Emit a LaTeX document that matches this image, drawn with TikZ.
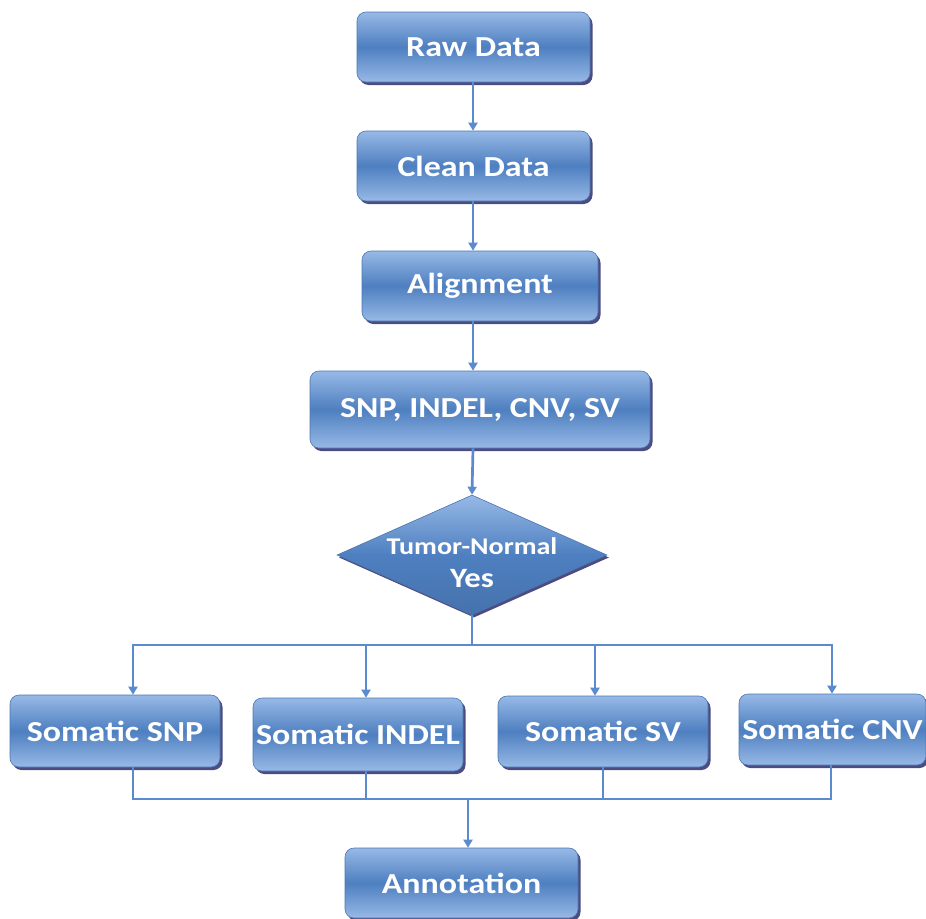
\documentclass[tikz,border=0pt]{standalone}
\usepackage{fontspec}
\setmainfont{Carlito}
\newfontfamily\boxfont{Carlito}[FakeStretch=1.17]
\usetikzlibrary{shapes.geometric,arrows.meta,shadows}
\definecolor{boxtop}{HTML}{97B9E6}
\definecolor{boxmid}{HTML}{4E7FC0}
\definecolor{boxedge}{HTML}{4A76B2}
\definecolor{linec}{HTML}{5A8BD0}
\tikzset{
  procbox/.style={rectangle, rounded corners=9pt, draw=boxedge, line width=0.6pt,
    top color=boxtop, bottom color=boxtop, middle color=boxmid,
    drop shadow={shadow xshift=2.5pt, shadow yshift=-3pt, fill=black!70!blue, opacity=0.7},
    text=white, font=\boxfont\bfseries\fontsize{29}{32}\selectfont, inner sep=0pt, align=center},
  decbox/.style={diamond, draw=boxedge, line width=0.6pt,
    top color=boxtop, bottom color=boxmid!90!black, middle color=boxmid,
    drop shadow={shadow xshift=2pt, shadow yshift=-2.5pt, fill=black!70!blue, opacity=0.7},
    inner sep=0pt},
  dectext/.style={text=white, inner sep=0pt, align=center,
    font=\boxfont\bfseries\fontsize{24}{28}\selectfont},
  conn/.style={draw=linec, line width=2.7pt},
  arr/.style={conn, -{Triangle[width=9pt,length=8pt]}}
}
\begin{document}
\begin{tikzpicture}[x=1pt,y=-1pt]
\useasboundingbox (0,0) rectangle (926,918);
\node[procbox, minimum width=233pt, minimum height=70pt] (raw) at (473.5,47) {Raw Data};
\node[procbox, minimum width=233pt, minimum height=70pt] (clean) at (473.5,166) {Clean Data};
\node[procbox, minimum width=236pt, minimum height=70pt] (align) at (480,286) {Alignment};
\node[procbox, minimum width=340pt, minimum height=77pt] (var) at (480,409.5) {SNP, INDEL, CNV, SV};
\node[decbox, minimum width=270pt, minimum height=120pt] (tn) at (472,555) {};
\node[dectext] (tnlabel) at (472,563) {Tumor-Normal\\[5pt]{\fontsize{28}{30}\selectfont Yes}};
\node[procbox, minimum width=210pt, minimum height=72pt] (ssnp) at (115,731) {Somatic SNP};
\node[procbox, minimum width=210pt, minimum height=73pt] (sindel) at (358,734.5) {Somatic INDEL};
\node[procbox, minimum width=210pt, minimum height=71pt] (ssv) at (603,731.5) {Somatic SV};
\node[procbox, minimum width=187pt, minimum height=71pt] (scnv) at (832.5,729.5) {Somatic CNV};
\node[procbox, minimum width=233pt, minimum height=70pt] (annot) at (461.5,883) {Annotation};

% vertical chain
\draw[arr] (raw.south -| 473,0) -- (clean.north -| 473,0);
\draw[arr] (clean.south -| 473,0) -- (align.north -| 473,0);
\draw[arr] (align.south -| 473,0) -- (var.north -| 473,0);
\draw[arr] (var.south -| 473,0) -- (tn.north);

% split
\coordinate (split) at (472,645);
\coordinate (sl) at (133,645);
\coordinate (sr) at (832,645);
\coordinate (a1) at (133,645);
\coordinate (a2) at (366,645);
\coordinate (a3) at (595,645);
\coordinate (a4) at (832,645);
\draw[conn] (tn.south) -- (split);
\draw[conn, line cap=rect] (sl) -- (sr);
\draw[arr] (a1) -- (a1 |- ssnp.north);
\draw[arr] (a2) -- (a2 |- sindel.north);
\draw[arr] (a3) -- (a3 |- ssv.north);
\draw[arr] (a4) -- (a4 |- scnv.north);

% merge
\coordinate (m1) at (133,799);
\coordinate (m2) at (366,799);
\coordinate (m3) at (603,799);
\coordinate (m4) at (831,799);
\coordinate (merge) at (468,799);
\draw[conn] (m1 |- ssnp.south) -- (m1);
\draw[conn] (m2 |- sindel.south) -- (m2);
\draw[conn] (m3 |- ssv.south) -- (m3);
\draw[conn] (m4 |- scnv.south) -- (m4);
\draw[conn, line cap=rect] (m1) -- (m4);
\draw[arr] (merge) -- (merge |- annot.north);
\end{tikzpicture}
\end{document}
